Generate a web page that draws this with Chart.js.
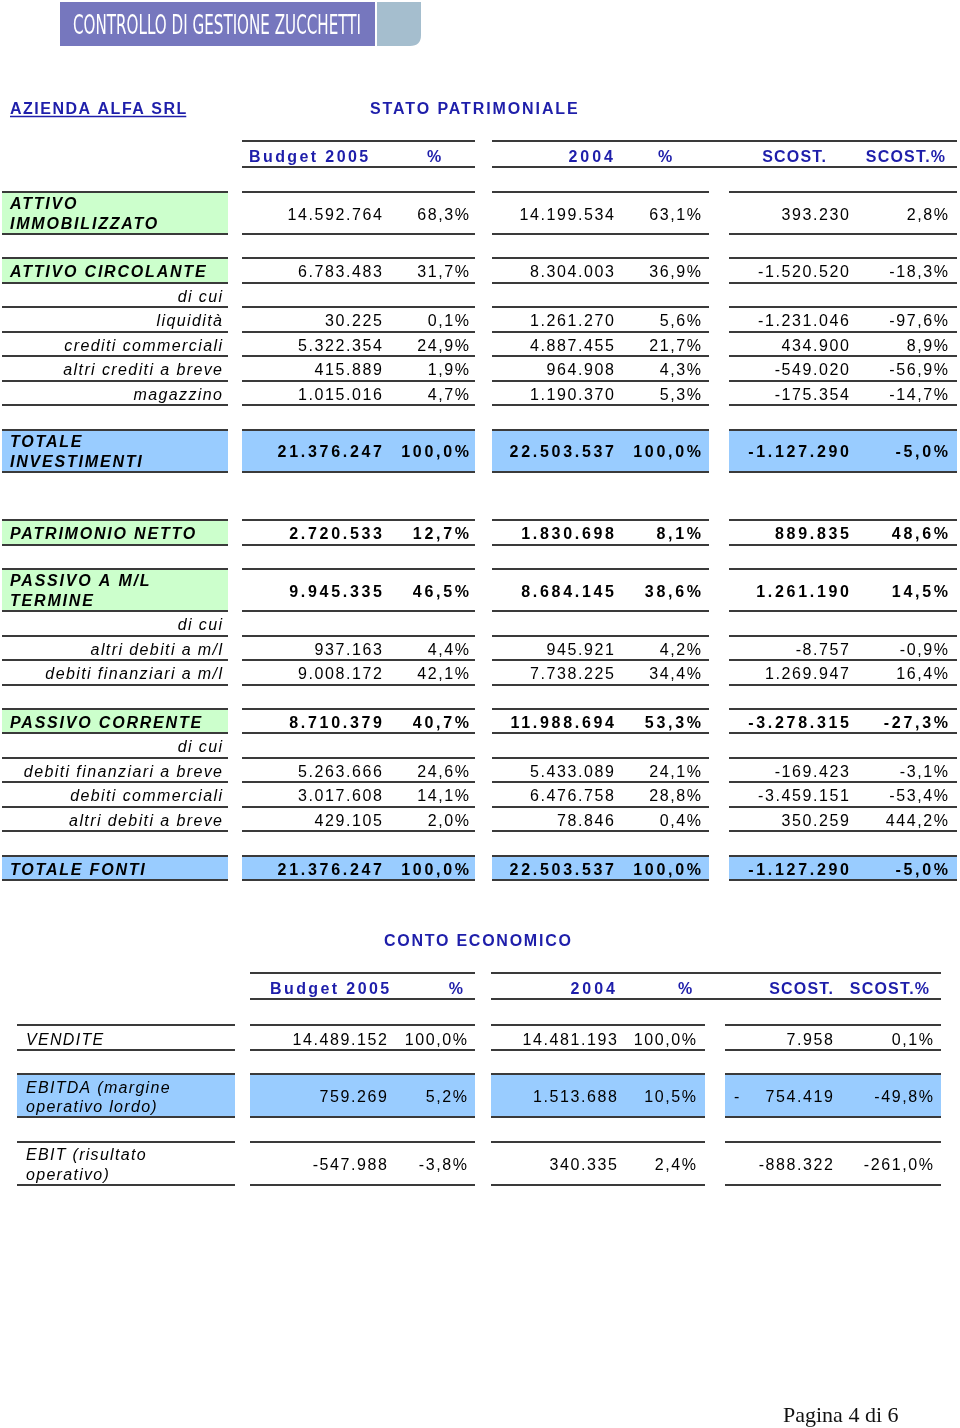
<!DOCTYPE html>
<html>
<head>
<meta charset="utf-8">
<script src="https://cdn.jsdelivr.net/npm/chart.js@4/dist/chart.umd.min.js"></script>
<style>
html,body{margin:0;padding:0;background:#ffffff;}
#wrap{position:relative;width:960px;height:1428px;}
</style>
</head>
<body>
<div id="wrap"><canvas id="c"></canvas></div>
<script>
// ================= DATA =================
const bannerTitle = 'CONTROLLO DI GESTIONE ZUCCHETTI';
const companyName = 'AZIENDA ALFA SRL';
const spTitle = 'STATO PATRIMONIALE';
const ceTitle = 'CONTO ECONOMICO';
const pageLabel = 'Pagina 4 di 6';

const spColumnHeaders = ['Budget 2005', '%', '2004', '%', 'SCOST.', 'SCOST.%'];
const ceColumnHeaders = ['Budget 2005', '%', '2004', '%', 'SCOST.', 'SCOST.%'];

// Stato patrimoniale
const spLabels = [
  ['ATTIVO', 'IMMOBILIZZATO'],
  ['ATTIVO CIRCOLANTE'],
  ['di cui'],
  ['liquidità'],
  ['crediti commerciali'],
  ['altri crediti a breve'],
  ['magazzino'],
  ['TOTALE', 'INVESTIMENTI'],
  ['PATRIMONIO NETTO'],
  ['PASSIVO A M/L', 'TERMINE'],
  ['di cui'],
  ['altri debiti a m/l'],
  ['debiti finanziari a m/l'],
  ['PASSIVO CORRENTE'],
  ['di cui'],
  ['debiti finanziari a breve'],
  ['debiti commerciali'],
  ['altri debiti a breve'],
  ['TOTALE FONTI']
];
const spBudget    = [14592764, 6783483, null, 30225, 5322354, 415889, 1015016, 21376247, 2720533, 9945335, null, 937163, 9008172, 8710379, null, 5263666, 3017608, 429105, 21376247];
const spBudgetPct = [68.3, 31.7, null, 0.1, 24.9, 1.9, 4.7, 100.0, 12.7, 46.5, null, 4.4, 42.1, 40.7, null, 24.6, 14.1, 2.0, 100.0];
const sp2004      = [14199534, 8304003, null, 1261270, 4887455, 964908, 1190370, 22503537, 1830698, 8684145, null, 945921, 7738225, 11988694, null, 5433089, 6476758, 78846, 22503537];
const sp2004Pct   = [63.1, 36.9, null, 5.6, 21.7, 4.3, 5.3, 100.0, 8.1, 38.6, null, 4.2, 34.4, 53.3, null, 24.1, 28.8, 0.4, 100.0];
const spScost     = [393230, -1520520, null, -1231046, 434900, -549020, -175354, -1127290, 889835, 1261190, null, -8757, 1269947, -3278315, null, -169423, -3459151, 350259, -1127290];
const spScostPct  = [2.8, -18.3, null, -97.6, 8.9, -56.9, -14.7, -5.0, 48.6, 14.5, null, -0.9, 16.4, -27.3, null, -3.1, -53.4, 444.2, -5.0];

// Conto economico
const ceLabels = [
  ['VENDITE'],
  ['EBITDA (margine', 'operativo lordo)'],
  ['EBIT (risultato', 'operativo)']
];
const ceBudget    = [14489152, 759269, -547988];
const ceBudgetPct = [100.0, 5.2, -3.8];
const ce2004      = [14481193, 1513688, 340335];
const ce2004Pct   = [100.0, 10.5, 2.4];
const ceScost     = [7958, -754419, -888322];
const ceScostPct  = [0.1, -49.8, -261.0];

// ================= STYLE / LAYOUT =================
const spKinds = ['main','main','sub','sub','sub','sub','sub','total','main','main','sub','sub','sub','main','sub','sub','sub','sub','total'];
const spBoldNums = [0,0,0,0,0,0,0,1,1,1,0,0,0,1,0,0,0,0,1];
const spGapBefore = [0,1,0,0,0,0,0,1,2,1,0,0,0,1,0,0,0,0,1];
const ceKinds = ['plain','total','plain'];
const ceGapBefore = [0,1,1];
const ceAccountingScost = [false, true, false];

const COLORS = {
  purple: '#7677BE', slate: '#A5BECE', blue: '#1e1eaa', green: '#CCFFCC',
  lightBlue: '#99CCFF', line: '#3a3a3a', text: '#000000'
};
const FONT = '"Liberation Sans", Arial, Helvetica, sans-serif';

const SP = {
  top: 192, h1: 24.5, h2: 42, gap: 24.3,
  label: [2, 228], blocks: [[242, 475], [492, 709], [729, 957]],
  labelMainX: 10, labelSubRight: 222,
  numRight: [382, 614, 849], pctRight: [469, 701, 948],
  head: { top: 141, bottom: 167, lines: [[242, 475], [492, 957]],
          x: [249, 434, 613, 665, 826, 945], align: ['left','center','right','center','right','right'] },
  dblLine: [17, 37]
};
const CE = {
  top: 1025, h1: 24.5, h2: 43, gap: 24.5,
  label: [17, 235], blocks: [[250, 475], [491, 705], [725, 941]],
  labelX: 26,
  numRight: [387, 617, 833], pctRight: [467, 696, 933], minusX: 734,
  head: { top: 973, bottom: 999, lines: [[250, 475], [491, 941]],
          x: [270, 463, 615, 685, 833, 929], align: ['left','right','right','center','right','right'] },
  dblLine: [18.5, 38]
};
const headLS = [2.4, 1.5, 3.0, 1.5, 1.2, 1.2];

// ================= HELPERS =================
function fmtInt(v) {
  const s = Math.abs(Math.round(v)).toString().replace(/\B(?=(\d{3})+(?!\d))/g, '.');
  return (v < 0 ? '-' : '') + s;
}
function fmtPct(v) {
  const s = Math.abs(v).toFixed(1).replace('.', ',');
  return (v < 0 ? '-' : '') + s + '%';
}
function drawText(ctx, s, x, y, font, color, ls, align) {
  ctx.font = font;
  ctx.fillStyle = color;
  ctx.textBaseline = 'alphabetic';
  ctx.textAlign = 'left';
  const hasLS = ('letterSpacing' in ctx);
  if (hasLS) ctx.letterSpacing = '0px';
  const w = ctx.measureText(s).width + ls * (s.length - 1);
  const left = align === 'right' ? x - w : (align === 'center' ? x - w / 2 : x);
  if (hasLS) {
    ctx.letterSpacing = ls + 'px';
    ctx.fillText(s, left, y);
    ctx.letterSpacing = '0px';
  } else {
    let cx = left;
    for (const ch of s) { ctx.fillText(ch, cx, y); cx += ctx.measureText(ch).width + ls; }
  }
  return { left: left, width: w };
}

// ================= PLUGIN =================
const tablePlugin = {
  id: 'financialTable',
  afterDraw(chart) {
    const ctx = chart.ctx;
    const sx = chart.scales.x, sy = chart.scales.y;
    const X = v => sx.getPixelForValue(v);
    const Y = v => sy.getPixelForValue(v);
    const hline = (x0, x1, y) => {
      ctx.beginPath();
      ctx.moveTo(X(x0), Math.round(Y(y)));
      ctx.lineTo(X(x1), Math.round(Y(y)));
      ctx.stroke();
    };
    const rect = (x0, x1, y0, y1, color) => {
      ctx.fillStyle = color;
      ctx.fillRect(X(x0), Y(y0), X(x1) - X(x0), Y(y1) - Y(y0));
    };
    ctx.save();

    // ---- banner ----
    rect(60, 375, 2, 46, COLORS.purple);
    ctx.fillStyle = COLORS.slate;
    ctx.beginPath();
    const bx0 = X(377), bx1 = X(421), by0 = Y(2), by1 = Y(46), r = 11;
    ctx.moveTo(bx0, by0); ctx.lineTo(bx1, by0); ctx.lineTo(bx1, by1 - r);
    ctx.quadraticCurveTo(bx1, by1, bx1 - r, by1); ctx.lineTo(bx0, by1); ctx.closePath(); ctx.fill();
    ctx.font = '26px "Liberation Sans Narrow", "DejaVu Sans Condensed", ' + FONT;
    if ('letterSpacing' in ctx) ctx.letterSpacing = '0px';
    const bw = ctx.measureText(bannerTitle).width;
    const targetW = X(361) - X(73);
    ctx.save();
    ctx.translate(X(73), Y(33.5));
    ctx.scale(targetW / bw, 1.05);
    ctx.fillStyle = '#ffffff'; ctx.textAlign = 'left'; ctx.textBaseline = 'alphabetic';
    ctx.fillText(bannerTitle, 0, 0);
    ctx.restore();

    // ---- titles ----
    const tFont = 'bold 16px ' + FONT;
    const cn = drawText(ctx, companyName, X(10), Y(113.5), tFont, COLORS.blue, 1.5, 'left');
    ctx.strokeStyle = COLORS.blue; ctx.lineWidth = 1.5;
    ctx.beginPath(); ctx.moveTo(cn.left, Y(116.5)); ctx.lineTo(cn.left + cn.width, Y(116.5)); ctx.stroke();
    drawText(ctx, spTitle, X(370), Y(113.5), tFont, COLORS.blue, 1.9, 'left');
    drawText(ctx, ceTitle, X(384), Y(945.5), tFont, COLORS.blue, 1.75, 'left');

    ctx.strokeStyle = COLORS.line; ctx.lineWidth = 2;

    // ---- header rows ----
    function header(cfg, labels) {
      ctx.strokeStyle = COLORS.line; ctx.lineWidth = 2;
      cfg.head.lines.forEach(l => { hline(l[0], l[1], cfg.head.top); hline(l[0], l[1], cfg.head.bottom); });
      labels.forEach((t, i) => drawText(ctx, t, X(cfg.head.x[i]), Y(cfg.head.bottom - 5), tFont, COLORS.blue, headLS[i], cfg.head.align[i]));
    }
    header(SP, spColumnHeaders);
    header(CE, ceColumnHeaders);

    const numFont = '16px ' + FONT;
    const boldNumFont = 'bold 16px ' + FONT;

    // ---- stato patrimoniale rows ----
    let y = SP.top;
    spLabels.forEach((lab, i) => {
      y += spGapBefore[i] * SP.gap;
      const h = lab.length > 1 ? SP.h2 : SP.h1;
      const top = y, bot = y + h;
      const kind = spKinds[i];
      if (kind === 'main') rect(SP.label[0], SP.label[1], top, bot, COLORS.green);
      if (kind === 'total') {
        rect(SP.label[0], SP.label[1], top, bot, COLORS.lightBlue);
        SP.blocks.forEach(b => rect(b[0], b[1], top, bot, COLORS.lightBlue));
      }
      ctx.strokeStyle = COLORS.line; ctx.lineWidth = 2;
      const segs = [SP.label].concat(SP.blocks);
      if (i === 0 || spGapBefore[i] > 0) segs.forEach(s => hline(s[0], s[1], top));
      segs.forEach(s => hline(s[0], s[1], bot));
      // labels
      if (kind === 'sub') {
        drawText(ctx, lab[0], X(SP.labelSubRight), Y(bot - 5.5), 'italic 16px ' + FONT, COLORS.text, 1.4, 'right');
      } else if (lab.length > 1) {
        lab.forEach((t, k) => drawText(ctx, t, X(SP.labelMainX), Y(top + SP.dblLine[k]), 'italic bold 16px ' + FONT, COLORS.text, 1.8, 'left'));
      } else {
        drawText(ctx, lab[0], X(SP.labelMainX), Y(bot - 5.5), 'italic bold 16px ' + FONT, COLORS.text, 1.8, 'left');
      }
      // numbers
      const base = lab.length > 1 ? top + h / 2 + 6.5 : bot - 5.5;
      const bold = spBoldNums[i] === 1;
      const f = bold ? boldNumFont : numFont, ls = bold ? 2.7 : 1.6;
      const vals = [spBudget[i], sp2004[i], spScost[i]];
      const pcts = [spBudgetPct[i], sp2004Pct[i], spScostPct[i]];
      vals.forEach((v, k) => {
        if (v === null) return;
        drawText(ctx, fmtInt(v), X(SP.numRight[k]), Y(base), f, COLORS.text, ls, 'right');
        drawText(ctx, fmtPct(pcts[k]), X(SP.pctRight[k]), Y(base), f, COLORS.text, ls, 'right');
      });
      y = bot;
    });

    // ---- conto economico rows ----
    y = CE.top;
    ceLabels.forEach((lab, i) => {
      y += ceGapBefore[i] * CE.gap;
      const h = lab.length > 1 ? CE.h2 : CE.h1;
      const top = y, bot = y + h;
      const segs = [CE.label].concat(CE.blocks);
      if (ceKinds[i] === 'total') segs.forEach(s => rect(s[0], s[1], top, bot, COLORS.lightBlue));
      ctx.strokeStyle = COLORS.line; ctx.lineWidth = 2;
      segs.forEach(s => { hline(s[0], s[1], top); hline(s[0], s[1], bot); });
      const lf = 'italic 16px ' + FONT;
      if (lab.length > 1) {
        lab.forEach((t, k) => drawText(ctx, t, X(CE.labelX), Y(top + CE.dblLine[k]), lf, COLORS.text, 1.3, 'left'));
      } else {
        drawText(ctx, lab[0], X(CE.labelX), Y(bot - 5), lf, COLORS.text, 1.3, 'left');
      }
      const base = lab.length > 1 ? top + h / 2 + 6.5 : bot - 5;
      const vals = [ceBudget[i], ce2004[i], ceScost[i]];
      const pcts = [ceBudgetPct[i], ce2004Pct[i], ceScostPct[i]];
      vals.forEach((v, k) => {
        if (k === 2 && ceAccountingScost[i] && v < 0) {
          drawText(ctx, '-', X(CE.minusX), Y(base), numFont, COLORS.text, 1.6, 'left');
          drawText(ctx, fmtInt(-v), X(CE.numRight[k]), Y(base), numFont, COLORS.text, 1.6, 'right');
        } else {
          drawText(ctx, fmtInt(v), X(CE.numRight[k]), Y(base), numFont, COLORS.text, 1.6, 'right');
        }
        drawText(ctx, fmtPct(pcts[k]), X(CE.pctRight[k]), Y(base), numFont, COLORS.text, 1.6, 'right');
      });
      y = bot;
    });

    // ---- footer ----
    drawText(ctx, pageLabel, X(783), Y(1422), '22px "Liberation Serif", "Times New Roman", serif', '#111111', 0, 'left');

    ctx.restore();
  }
};

// ================= CHART =================
new Chart(document.getElementById('c'), {
  type: 'scatter',
  data: { datasets: [] },
  options: {
    responsive: true,
    maintainAspectRatio: false,
    animation: false,
    events: [],
    layout: { padding: 0 },
    plugins: { legend: { display: false }, tooltip: { enabled: false }, title: { display: false } },
    scales: {
      x: { type: 'linear', min: 0, max: 960, display: false },
      y: { type: 'linear', min: 0, max: 1428, reverse: true, display: false }
    }
  },
  plugins: [tablePlugin]
});
</script>
</body>
</html>
